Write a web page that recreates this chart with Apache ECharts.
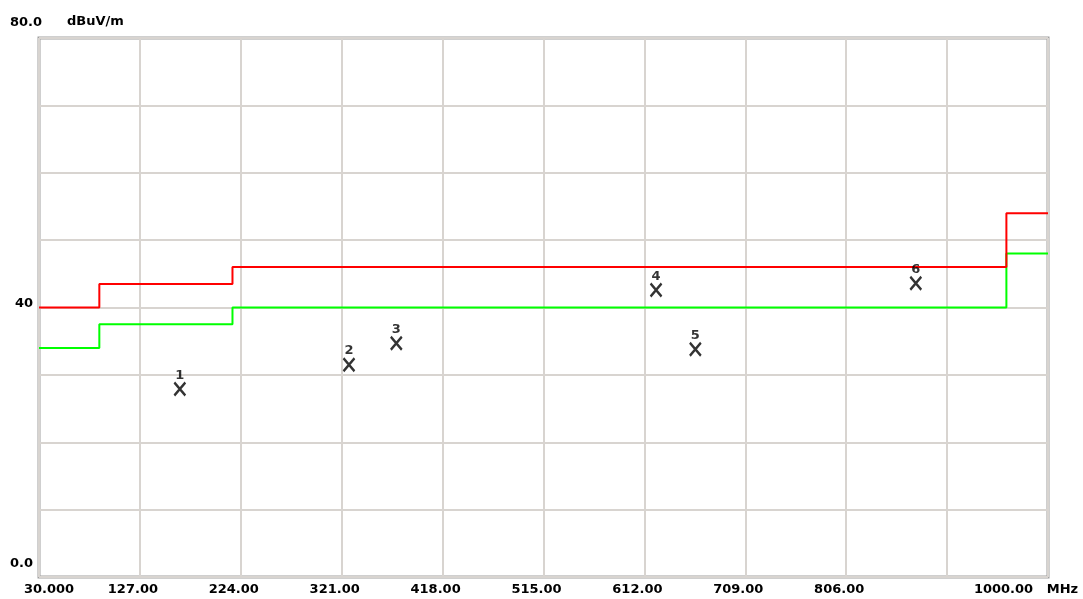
<!DOCTYPE html>
<html>
<head>
<meta charset="utf-8">
<script src="https://cdn.jsdelivr.net/npm/echarts@6/dist/echarts.min.js"></script>
<style>html,body{margin:0;padding:0;background:#fff;}#c{width:1083px;height:599px;}</style>
</head>
<body>
<div id="c"></div>
<script>
// Frequency axis ticks (MHz) and labels
const xTicks = [30, 127, 224, 321, 418, 515, 612, 709, 806, 903, 1000];
const xTickLabels = ['30.000', '127.00', '224.00', '321.00', '418.00', '515.00', '612.00', '709.00', '806.00', '', '1000.00'];
const yTickLabels = {80: '80.0', 40: '40', 0: '0.0'};
const yUnit = 'dBuV/m';
const xUnit = 'MHz';

// Limit lines: frequency edges and levels per band
const limitEdges = [30, 88, 216, 960, 1000];
const redLevels = [40, 43.5, 46, 54];
const greenLevels = [34, 37.5, 40, 48];

// Measured peaks
const markerNames = ['1', '2', '3', '4', '5', '6'];
const markerFreqs = [165.4, 328.0, 373.5, 623.2, 661.0, 872.9];
const markerLevels = [27.9, 31.5, 34.7, 42.6, 33.8, 43.6];

function stepLine(edges, levels) {
  const pts = [];
  for (let i = 0; i < levels.length; i++) {
    pts.push([edges[i], levels[i]]);
    pts.push([edges[i + 1], levels[i]]);
  }
  return pts;
}

const FONT = '"DejaVu Sans", Arial, sans-serif';
const chart = echarts.init(document.getElementById('c'), null, {renderer: 'canvas'});
chart.setOption({
  animation: false,
  backgroundColor: '#ffffff',
  grid: {left: 39, right: 35, top: 38, bottom: 22, show: true, borderColor: '#a0a0a0', borderWidth: 3, backgroundColor: 'transparent'},
  xAxis: {
    type: 'value', min: 30, max: 1000, interval: 97,
    axisLine: {show: false},
    axisTick: {show: false},
    splitLine: {show: true, lineStyle: {color: '#d8d4d0', width: 2}},
    axisLabel: {
      margin: 6,
      fontFamily: FONT, fontWeight: 'bold', fontSize: 13, color: '#000',
      showMinLabel: true, showMaxLabel: true,
      alignMinLabel: 'center', alignMaxLabel: 'center',
      formatter: function (v) {
        const i = xTicks.findIndex(t => Math.abs(t - v) < 0.01);
        if (i < 0) return '';
        if (i === 0) return '{first|' + xTickLabels[i] + '}';
        if (i === xTicks.length - 1) return '{last|' + xTickLabels[i] + '   ' + xUnit + '}';
        if (!xTickLabels[i]) return '';
        return '{mid|' + xTickLabels[i] + '}';
      },
      rich: {
        first: {fontFamily: FONT, fontWeight: 'bold', fontSize: 13, color: '#000', padding: [0, 0, 0, 20]},
        mid: {fontFamily: FONT, fontWeight: 'bold', fontSize: 13, color: '#000', padding: [0, 14, 0, 0]},
        last: {fontFamily: FONT, fontWeight: 'bold', fontSize: 13, color: '#000', padding: [0, 44, 0, 0]}
      }
    }
  },
  yAxis: {
    type: 'value', min: 0, max: 80, interval: 10,
    name: yUnit, nameLocation: 'end', nameGap: 10,
    nameTextStyle: {fontFamily: FONT, fontWeight: 'bold', fontSize: 13, color: '#000', align: 'left', padding: [0, 0, 0, 28]},
    axisLine: {show: false},
    axisTick: {show: false},
    splitLine: {show: true, lineStyle: {color: '#d8d4d0', width: 2}},
    axisLabel: {
      margin: 29, align: 'left',
      fontFamily: FONT, fontWeight: 'bold', fontSize: 13, color: '#000',
      formatter: function (v) {
        const t = yTickLabels[v];
        if (t === undefined) return '';
        if (v === 80) return '{hi|' + t + '}';
        if (v === 0) return '{lo|' + t + '}';
        return '{mid|' + t + '}';
      },
      rich: {
        hi: {fontFamily: FONT, fontWeight: 'bold', fontSize: 13, color: '#000', padding: [0, 0, 30, 0]},
        mid: {fontFamily: FONT, fontWeight: 'bold', fontSize: 13, color: '#000', padding: [0, 0, 8, 5]},
        lo: {fontFamily: FONT, fontWeight: 'bold', fontSize: 13, color: '#000', padding: [0, 0, 26, 0]}
      }
    }
  },
  series: [
    {
      type: 'line', data: stepLine(limitEdges, greenLevels), showSymbol: false,
      lineStyle: {color: '#00ff00', width: 2}, z: 3
    },
    {
      type: 'line', data: stepLine(limitEdges, redLevels), showSymbol: false,
      lineStyle: {color: '#ff0000', width: 2}, z: 3
    },
    {
      type: 'scatter',
      data: markerFreqs.map((f, i) => ({value: [f, markerLevels[i]], name: markerNames[i]})),
      symbol: 'path://M0,0L10,12M10,0L0,12',
      symbolSize: [11, 13],
      itemStyle: {color: 'none', borderColor: '#000', borderWidth: 2.4},
      label: {
        show: true, position: 'top', distance: -2,
        formatter: p => p.name,
        fontFamily: FONT, fontWeight: 'bold', fontSize: 13, color: '#000'
      },
      z: 4
    }
  ]
});
</script>
</body>
</html>
